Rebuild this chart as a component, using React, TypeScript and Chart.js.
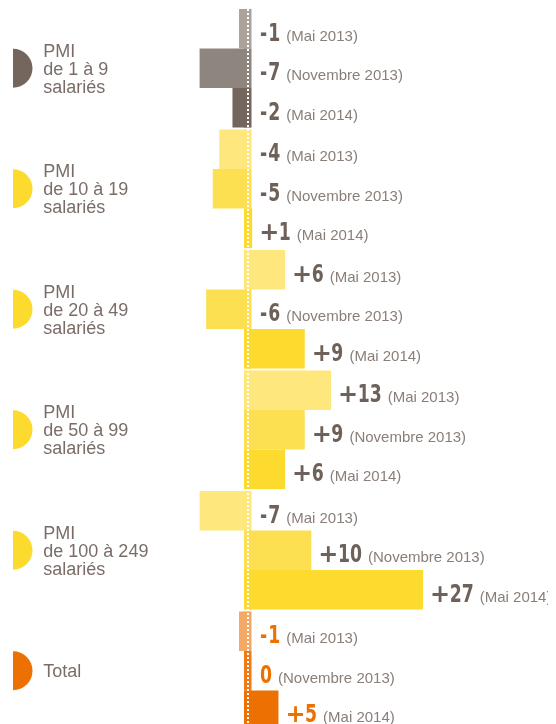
import React, { useEffect, useRef } from 'react';
import { Chart, registerables } from 'chart.js';

Chart.register(...registerables);

// ---- data ----
const groupLabels: string[][] = [
  ['PMI', 'de 1 à 9', 'salariés'],
  ['PMI', 'de 10 à 19', 'salariés'],
  ['PMI', 'de 20 à 49', 'salariés'],
  ['PMI', 'de 50 à 99', 'salariés'],
  ['PMI', 'de 100 à 249', 'salariés'],
  ['Total'],
];
const periods = ['Mai 2013', 'Novembre 2013', 'Mai 2014'];
const mai2013 = [-1, -4, 6, 13, -7, -1];
const nov2013 = [-7, -5, -6, 9, 10, 0];
const mai2014 = [-2, 1, 9, 6, 27, 5];

// ---- styles ----
const grey = ['#aba29c', '#8f857f', '#75665d'];
const yellow = ['#fee77c', '#fddf52', '#fdda2e'];
const orange = ['#f3a865', '#ef7b16', '#ed7102'];
const groupPalette = [grey, yellow, yellow, yellow, yellow, orange];
const iconColors = ['#75665d', '#fdda2e', '#fdda2e', '#fdda2e', '#fdda2e', '#ed7102'];
const numberColor = '#6e615a';
const totalColor = '#ed7102';
const smallColor = '#8a7e78';
const labelColor = '#7a6d67';
const FONT = '"Liberation Sans", Arial, Helvetica, sans-serif';
const NUMFONT = '"DejaVu Sans", sans-serif';

const overlay = {
  id: 'overlay',
  afterDatasetsDraw(chart: any) {
    const ctx: CanvasRenderingContext2D = chart.ctx;
    const xs = chart.scales.x;
    const ys = chart.scales.y;
    const zero = xs.getPixelForValue(0);
    const bandL = Math.round(zero - 1.6);
    const bandR = bandL + 7.5;
    ctx.save();
    // zero band in each bar colour
    chart.data.datasets.forEach((ds: any, di: number) => {
      const meta = chart.getDatasetMeta(di);
      meta.data.forEach((el: any, i: number) => {
        const p = el.getProps(['y', 'height'], true);
        ctx.fillStyle = ds.backgroundColor[i];
        ctx.fillRect(bandL, p.y - p.height / 2, bandR - bandL, p.height);
      });
    });
    // dotted white line
    const dx = bandL + 4;
    ctx.strokeStyle = '#ffffff';
    ctx.lineWidth = 2;
    ctx.setLineDash([2, 2]);
    ctx.beginPath();
    ctx.moveTo(dx, chart.chartArea.top + 1);
    ctx.lineTo(dx, chart.chartArea.bottom);
    ctx.stroke();
    ctx.setLineDash([]);

    // value labels
    ctx.textBaseline = 'alphabetic';
    ctx.textAlign = 'left';
    chart.data.datasets.forEach((ds: any, di: number) => {
      const meta = chart.getDatasetMeta(di);
      meta.data.forEach((el: any, i: number) => {
        const v = ds.data[i] as number;
        const p = el.getProps(['x', 'y'], true);
        const end = v > 0 ? p.x : zero;
        let x = Math.max(end, bandR) + 7;
        const base = p.y + 12;
        const isTotal = i === groupLabels.length - 1;
        ctx.fillStyle = isTotal ? totalColor : numberColor;
        ctx.font = `bold 24px ${NUMFONT}`;
        if (v > 0) {
          ctx.fillText('+', x, base);
          x += ctx.measureText('+').width - 0.5;
        } else if (v < 0) {
          ctx.save();
          ctx.translate(x + 1.5, base);
          ctx.scale(0.72, 1);
          ctx.fillText('-', 0, 0);
          const mw = ctx.measureText('-').width * 0.72;
          ctx.restore();
          x += 1.5 + mw + 1;
        } else {
          x += 1.5;
        }
        const num = String(Math.abs(v));
        ctx.save();
        ctx.translate(x, base);
        ctx.scale(0.72, 1);
        ctx.fillText(num, 0, 0);
        const w = ctx.measureText(num).width * 0.72;
        ctx.restore();
        x += w + 6;
        ctx.fillStyle = smallColor;
        ctx.font = `15px ${FONT}`;
        ctx.fillText(`(${periods[di]})`, x, base);
      });
    });

    // left labels + half-circle icons
    groupLabels.forEach((lines, i) => {
      const Y = ys.getPixelForValue(i);
      ctx.fillStyle = iconColors[i];
      ctx.beginPath();
      ctx.moveTo(5, Y - 19.5);
      ctx.arc(5, Y, 19.5, -Math.PI / 2, Math.PI / 2);
      ctx.closePath();
      ctx.fill();
      ctx.fillStyle = labelColor;
      ctx.font = `18px ${FONT}`;
      const n = lines.length;
      lines.forEach((t, k) => {
        ctx.fillText(t, 35.3, Y + 6.5 + (k - (n - 1) / 2) * 18);
      });
    });
    ctx.restore();
  },
};

export default function App() {
  const ref = useRef<HTMLCanvasElement>(null);
  useEffect(() => {
    document.documentElement.style.overflow = 'hidden';
    document.body.style.overflow = 'hidden';
    if (!ref.current) return;
    const colorsFor = (k: number) => groupPalette.map((p) => p[k]);
    const chart = new Chart(ref.current, {
      type: 'bar',
      data: {
        labels: groupLabels.map((l) => l.join(' ')),
        datasets: [
          { label: periods[0], data: mai2013, backgroundColor: colorsFor(0), borderWidth: 0 },
          { label: periods[1], data: nov2013, backgroundColor: colorsFor(1), borderWidth: 0 },
          { label: periods[2], data: mai2014, backgroundColor: colorsFor(2), borderWidth: 0 },
        ],
      },
      options: {
        indexAxis: 'y',
        responsive: false,
        animation: false,
        devicePixelRatio: 1,
        layout: { padding: { left: 1, right: 1.5, top: 0, bottom: 0 } },
        datasets: { bar: { categoryPercentage: 0.985, barPercentage: 1 } },
        scales: {
          x: { type: 'linear', min: -36, max: 47, display: false },
          y: { type: 'category', display: false },
        },
        plugins: {
          legend: { display: false },
          tooltip: { enabled: false },
        },
      } as any,
      plugins: [overlay],
    });
    return () => chart.destroy();
  }, []);
  return (
    <div style={{ height: 716, overflow: 'hidden' }}>
      <canvas ref={ref} width={548} height={723} style={{ display: 'block' }} />
    </div>
  );
}
